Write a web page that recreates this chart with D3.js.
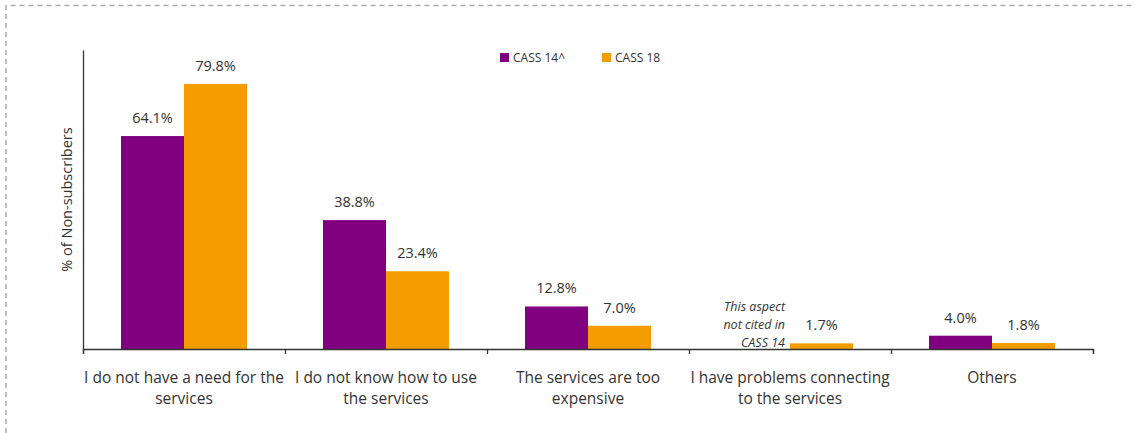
<!DOCTYPE html>
<html>
<head>
<meta charset="utf-8">
<script src="https://cdn.jsdelivr.net/npm/d3@7"></script>
<style>
  body { margin: 0; background: #fff; }
  svg text { font-family: "Open Sans", "Noto Sans", sans-serif; fill: #333; }
</style>
</head>
<body>
<div id="chart"></div>
<script>
const width = 1135;
const height = 433;

const categories = [
  ["I do not have a need for the", "services"],
  ["I do not know how to use", "the services"],
  ["The services are too", "expensive"],
  ["I have problems connecting", "to the services"],
  ["Others"],
];
const seriesNames = ["CASS 14^", "CASS 18"];
const cass14 = [64.1, 38.8, 12.8, null, 4.0];
const cass18 = [79.8, 23.4, 7.0, 1.7, 1.8];
const colors = ["#800080", "#F59C00"];
const noteLines = ["This aspect", "not cited in", "CASS 14"];

const margin = { top: 50, right: 42, bottom: 84, left: 83 };

const svg = d3
  .select("#chart")
  .append("svg")
  .attr("width", width)
  .attr("height", height);

// dashed frame (only top and left visible)
svg
  .append("path")
  .attr("d", `M6,${height} V5.5 H${width}`)
  .attr("fill", "none")
  .attr("stroke", "#aaa")
  .attr("stroke-width", 1.5)
  .attr("stroke-dasharray", "5,4");

const x0 = d3
  .scaleBand()
  .domain(d3.range(categories.length))
  .range([margin.left, width - margin.right])
  .paddingInner(0)
  .paddingOuter(0);

const x1 = d3
  .scaleBand()
  .domain([0, 1])
  .range([38, x0.bandwidth() - 38]);

const y = d3
  .scaleLinear()
  .domain([0, 90])
  .range([height - margin.bottom, margin.top]);

const data = categories.map((c, i) => ({
  i,
  values: [cass14[i], cass18[i]],
}));

// bars
const groups = svg
  .selectAll("g.group")
  .data(data)
  .enter()
  .append("g")
  .attr("class", "group")
  .attr("transform", (d) => `translate(${x0(d.i)},0)`);

groups
  .selectAll("rect")
  .data((d) => d.values.map((v, s) => ({ v, s })).filter((d) => d.v !== null))
  .enter()
  .append("rect")
  .attr("x", (d) => x1(d.s))
  .attr("width", x1.bandwidth())
  .attr("y", (d) => y(d.v))
  .attr("height", (d) => y(0) - y(d.v))
  .attr("fill", (d) => colors[d.s]);

groups
  .selectAll("text.value")
  .data((d) => d.values.map((v, s) => ({ v, s })).filter((d) => d.v !== null))
  .enter()
  .append("text")
  .attr("class", "value")
  .attr("x", (d) => x1(d.s) + x1.bandwidth() / 2)
  .attr("y", (d) => y(d.v) - 13)
  .attr("text-anchor", "middle")
  .style("font-size", "14.5px")
  .text((d) => d.v.toFixed(1) + "%");

// note for missing CASS 14 value
const noteG = svg
  .append("text")
  .attr("text-anchor", "end")
  .style("font-size", "12.5px")
  .style("font-style", "italic");
noteLines.forEach((t, k) => {
  noteG
    .append("tspan")
    .attr("x", x0(3) + x1(0) + x1.bandwidth() - 5)
    .attr("y", y(0) - 38 + k * 18)
    .text(t);
});

// x axis
const xAxis = d3
  .axisBottom(d3.scaleLinear().domain([0, categories.length]).range(x0.range()))
  .tickValues(d3.range(categories.length + 1))
  .tickSize(5)
  .tickFormat("");

svg
  .append("g")
  .attr("transform", `translate(0,${y(0)})`)
  .call(xAxis)
  .call((g) => g.selectAll("path,line").attr("stroke", "#333").attr("stroke-width", 1.3));

// category labels
categories.forEach((lines, i) => {
  const t = svg
    .append("text")
    .attr("text-anchor", "middle")
    .style("font-size", "15.5px");
  lines.forEach((l, k) => {
    t.append("tspan")
      .attr("x", x0(i) + x0.bandwidth() / 2)
      .attr("y", y(0) + 34 + k * 21)
      .text(l);
  });
});

// y axis line
svg
  .append("g")
  .attr("transform", `translate(${margin.left},0)`)
  .call(d3.axisLeft(y).tickValues([]).tickSizeOuter(0))
  .call((g) => g.select("path").attr("stroke", "#333").attr("stroke-width", 1.3));

svg
  .append("text")
  .attr("transform", `translate(72,${(y(0) + y(90)) / 2}) rotate(-90)`)
  .attr("text-anchor", "middle")
  .style("font-size", "14.5px")
  .text("% of Non-subscribers");

// legend
const legendX = [500, 602];
seriesNames.forEach((name, s) => {
  svg
    .append("rect")
    .attr("x", legendX[s])
    .attr("y", 53)
    .attr("width", 9)
    .attr("height", 9)
    .attr("fill", colors[s]);
  svg
    .append("text")
    .attr("x", legendX[s] + 13)
    .attr("y", 62)
    .style("font-size", "12px")
    .text(name);
});
</script>
</body>
</html>
